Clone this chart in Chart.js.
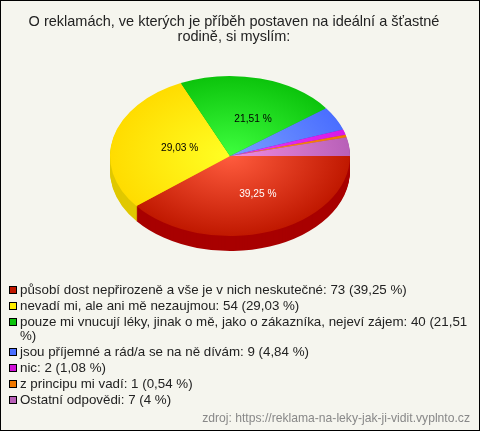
<!DOCTYPE html>
<html lang="cs">
<head>
<meta charset="utf-8">
<title>Reklamy</title>
<script src="https://cdn.jsdelivr.net/npm/chart.js@4"></script>
<style>
  html, body { margin: 0; padding: 0; background: #f5f5ee; overflow: hidden; }
  #box { position: relative; width: 480px; height: 431px; box-sizing: border-box; font-family: "Liberation Sans", Arial, sans-serif; }
  #box::after { content: ""; position: absolute; inset: 0; border: 1px solid #000; pointer-events: none; }
  canvas { position: absolute; left: 0; top: 0; }
  #legend { position: absolute; left: 0; top: 283px; width: 474px; font-size: 13.33px; line-height: 14px; color: #222; }
  #legend div { position: relative; padding-left: 20px; margin-bottom: 2px; }
  #legend i { position: absolute; left: 9px; top: 3px; width: 6px; height: 6px; border: 1px solid #000; }
  #source { position: absolute; right: 10px; top: 411px; font-size: 12.15px; color: #888; }
</style>
</head>
<body>
<div id="box">
  <canvas id="myChart" width="480" height="431"></canvas>
  <div id="legend"></div>
  <div id="source">zdroj: https://reklama-na-leky-jak-ji-vidit.vyplnto.cz</div>
</div>
<script>
const titleLines = ["O reklamách, ve kterých je příběh postaven na ideální a šťastné", "rodině, si myslím:"];
const categories = [
  "působí dost nepřirozeně a vše je v nich neskutečné",
  "nevadí mi, ale ani mě nezaujmou",
  "pouze mi vnucují léky, jinak o mě, jako o zákazníka, nejeví zájem",
  "jsou příjemné a rád/a se na ně dívám",
  "nic",
  "z principu mi vadí",
  "Ostatní odpovědi"
];
const counts = [73, 54, 40, 9, 2, 1, 7];
const percentLabels = ["39,25 %", "29,03 %", "21,51 %", "4,84 %", "1,08 %", "0,54 %", "4 %"];
const sliceLabels = ["39,25 %", "29,03 %", "21,51 %", "", "", "", ""];
const labelColors = ["#fff", "#000", "#000", "#000", "#000", "#000", "#000"];

const innerColors = ["#ff5c3e", "#ffff24", "#3eff3e", "#7a9eff", "#e83cf4", "#ff9020", "#f08ce0"];
const outerColors = ["#c01800", "#ffdc00", "#0cc40c", "#4a6eff", "#d818e8", "#f07800", "#b860b8"];
const sideColors = ["#a80000", "#e0c800", "#08a008", "#3050c0", "#a010b0", "#c06000", "#904890"];
const swatchColors = ["#c01800", "#ffee00", "#0cc40c", "#4a6eff", "#d010d8", "#f07800", "#b860b8"];

const squash = 2 / 3;
const depth = 15;
const shiftX = -4;
const shiftY = -10;

// pie is squashed into an ellipse and extruded downwards
const tiltPlugin = {
  id: "tilt",
  beforeDatasetsDraw(chart) {
    const { ctx, chartArea } = chart;
    const cx = (chartArea.left + chartArea.right) / 2;
    const cy = (chartArea.top + chartArea.bottom) / 2;
    const arcs = chart.getDatasetMeta(0).data;
    for (let d = depth; d >= 1; d--) {
      ctx.save();
      ctx.translate(cx + shiftX, cy + shiftY + d);
      ctx.scale(1, squash);
      ctx.translate(-cx, -cy);
      arcs.forEach((arc, i) => {
        const side = Object.create(arc);
        side.options = { ...arc.options, backgroundColor: sideColors[i] };
        side.draw(ctx);
      });
      ctx.restore();
    }
    ctx.save();
    ctx.translate(cx + shiftX, cy + shiftY);
    ctx.scale(1, squash);
    ctx.translate(-cx, -cy);
  },
  afterDatasetsDraw(chart) {
    const { ctx, chartArea } = chart;
    ctx.restore();
    const cx = (chartArea.left + chartArea.right) / 2 + shiftX;
    const cy = (chartArea.top + chartArea.bottom) / 2 + shiftY;
    ctx.save();
    ctx.font = '10.2px "Liberation Sans", Arial, sans-serif';
    ctx.textAlign = "center";
    ctx.textBaseline = "middle";
    chart.getDatasetMeta(0).data.forEach((arc, i) => {
      if (!sliceLabels[i]) return;
      const mid = (arc.startAngle + arc.endAngle) / 2;
      const x = cx + Math.cos(mid) * arc.outerRadius * 0.5 + 8;
      const y = cy + Math.sin(mid) * arc.outerRadius * 0.49 * squash + 1.5;
      ctx.fillStyle = labelColors[i];
      ctx.fillText(sliceLabels[i], x, y);
    });
    ctx.restore();
  }
};

function sliceGradient(context) {
  const { chart, dataIndex } = context;
  const area = chart.chartArea;
  if (!area) return outerColors[dataIndex];
  const cx = (area.left + area.right) / 2;
  const cy = (area.top + area.bottom) / 2;
  const grad = chart.ctx.createRadialGradient(cx, cy, 0, cx, cy, 120);
  grad.addColorStop(0, innerColors[dataIndex]);
  grad.addColorStop(1, outerColors[dataIndex]);
  return grad;
}

new Chart(document.getElementById("myChart").getContext("2d"), {
  type: "pie",
  data: {
    labels: categories,
    datasets: [{
      data: counts,
      backgroundColor: sliceGradient,
      borderWidth: 0
    }]
  },
  options: {
    responsive: false,
    animation: false,
    rotation: 90,
    layout: { padding: { left: 0, right: 12, top: 0, bottom: 145 } },
    plugins: {
      legend: { display: false },
      tooltip: { enabled: false },
      title: {
        display: true,
        text: titleLines,
        color: "#222",
        font: { family: '"Liberation Sans", Arial, sans-serif', size: 14.5, weight: "normal", lineHeight: 1.07 },
        padding: { top: 14, bottom: 1 }
      }
    }
  },
  plugins: [tiltPlugin]
});

const legendBox = document.getElementById("legend");
categories.forEach((name, i) => {
  const row = document.createElement("div");
  const swatch = document.createElement("i");
  swatch.style.background = swatchColors[i];
  row.appendChild(swatch);
  row.appendChild(document.createTextNode(`${name}: ${counts[i]} (${percentLabels[i]})`));
  legendBox.appendChild(row);
});
</script>
</body>
</html>
